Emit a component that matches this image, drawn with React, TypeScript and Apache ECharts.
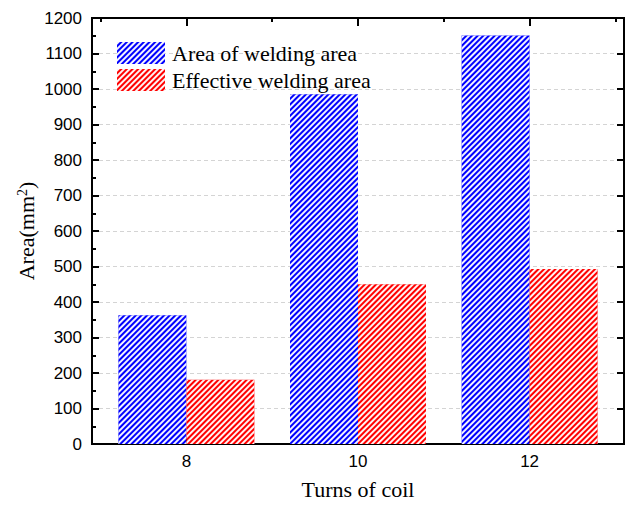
import React, { useEffect, useRef } from "react";
import * as echarts from "echarts";

// Turns of coil on the x axis, area in mm² on the y axis
const turns = [8, 10, 12];
const weldingArea = [363, 985, 1151];
const effectiveArea = [181, 450, 493];
const yTicks = [0, 100, 200, 300, 400, 500, 600, 700, 800, 900, 1000, 1100, 1200];
const majorTurnTicks = [8, 10, 12];
const minorTurnTicks = [7, 9, 11, 13];

const SERIF = "'Liberation Serif', 'Times New Roman', serif";
const SANS = "'Liberation Sans', Arial, sans-serif";

const hatch = () => ({
  symbol: "rect",
  symbolSize: 1,
  color: "rgba(255,255,255,0.95)",
  dashArrayX: [1, 0],
  dashArrayY: [1.3, 2],
  rotation: -Math.PI / 4,
});

const blackLine = () => ({ color: "#000", width: 2 });
const turnRange = () => ({ type: "value", min: 6.9, max: 13.1 });
const yRange = () => ({
  type: "value",
  min: yTicks[0],
  max: yTicks[yTicks.length - 1],
  interval: yTicks[1] - yTicks[0],
});

export default function App() {
  const ref = useRef<HTMLDivElement>(null);

  useEffect(() => {
    if (!ref.current) return;
    const chart = echarts.init(ref.current, undefined, { renderer: "svg" });
    chart.setOption({
      animation: false,
      backgroundColor: "#fff",
      grid: {
        left: 92,
        right: 7,
        top: 18,
        bottom: 58,
        show: true,
        borderColor: "#000",
        borderWidth: 2,
        backgroundColor: "transparent",
      },
      legend: {
        orient: "vertical",
        left: 117,
        top: 42,
        padding: 0,
        itemWidth: 48,
        itemHeight: 22,
        itemGap: 5,
        icon: "rect",
        textStyle: { fontFamily: SERIF, fontSize: 22, color: "#000", padding: [0, 0, 0, 2] },
      },
      xAxis: [
        {
          ...turnRange(),
          position: "bottom",
          name: "Turns of coil",
          nameLocation: "middle",
          nameGap: 34,
          nameMoveOverlap: false,
          nameTextStyle: { fontFamily: SERIF, fontSize: 22, color: "#000" },
          axisLine: { show: true, onZero: false, lineStyle: blackLine() },
          axisTick: { show: true, inside: true, length: 8, customValues: majorTurnTicks, lineStyle: blackLine() },
          axisLabel: {
            show: true,
            margin: 9,
            customValues: majorTurnTicks,
            fontFamily: SANS,
            fontSize: 17,
            color: "#000",
            formatter: (v: number) => String(v),
          },
          splitLine: { show: false },
        },
        {
          ...turnRange(),
          position: "top",
          axisLine: { show: true, onZero: false, lineStyle: blackLine() },
          axisTick: { show: true, inside: true, length: 8, customValues: majorTurnTicks, lineStyle: blackLine() },
          axisLabel: { show: false },
          splitLine: { show: false },
        },
        {
          ...turnRange(),
          position: "top",
          axisLine: { show: false, onZero: false },
          axisTick: { show: true, inside: true, length: 4, customValues: minorTurnTicks, lineStyle: blackLine() },
          axisLabel: { show: false },
          splitLine: { show: false },
        },
      ],
      yAxis: [
        {
          ...yRange(),
          position: "left",
          name: "{a|Area(mm}{s|2}{a|)}",
          nameLocation: "middle",
          nameGap: 55,
          nameMoveOverlap: false,
          nameRotate: 90,
          nameTextStyle: {
            rich: {
              a: { fontFamily: SERIF, fontSize: 22, color: "#000" },
              s: { fontFamily: SERIF, fontSize: 14, color: "#000", verticalAlign: "top", padding: [0, 0, 8, 0] },
            },
          },
          axisLine: { show: true, onZero: false, lineStyle: blackLine() },
          axisTick: { show: true, inside: true, length: 7, lineStyle: blackLine() },
          minorTick: { show: true, splitNumber: 2, length: 4, lineStyle: blackLine() },
          axisLabel: {
            margin: 10,
            fontFamily: SANS,
            fontSize: 17,
            color: "#000",
            formatter: (v: number) => String(v),
          },
          splitLine: { show: true, lineStyle: { color: "#d4d4d4", type: [4, 3], width: 1 } },
        },
        {
          ...yRange(),
          position: "right",
          axisLine: { show: true, onZero: false, lineStyle: blackLine() },
          axisTick: { show: true, inside: true, length: 7, lineStyle: blackLine() },
          axisLabel: { show: false },
          splitLine: { show: false },
        },
      ],
      series: [
        {
          name: "Area of welding area",
          type: "bar",
          xAxisIndex: 0,
          yAxisIndex: 0,
          barWidth: 68,
          barGap: "0%",
          data: turns.map((t, i) => [t, weldingArea[i]]),
          itemStyle: { color: "#0000ff", decal: hatch() },
        },
        {
          name: "Effective welding area",
          type: "bar",
          xAxisIndex: 0,
          yAxisIndex: 0,
          barWidth: 68,
          barGap: "0%",
          data: turns.map((t, i) => [t, effectiveArea[i]]),
          itemStyle: { color: "#ff0000", decal: hatch() },
        },
      ],
    });
    return () => chart.dispose();
  }, []);

  return (
    <div
      ref={ref}
      style={{ position: "fixed", left: 0, top: 0, width: 631, height: 505, background: "#fff" }}
    />
  );
}
